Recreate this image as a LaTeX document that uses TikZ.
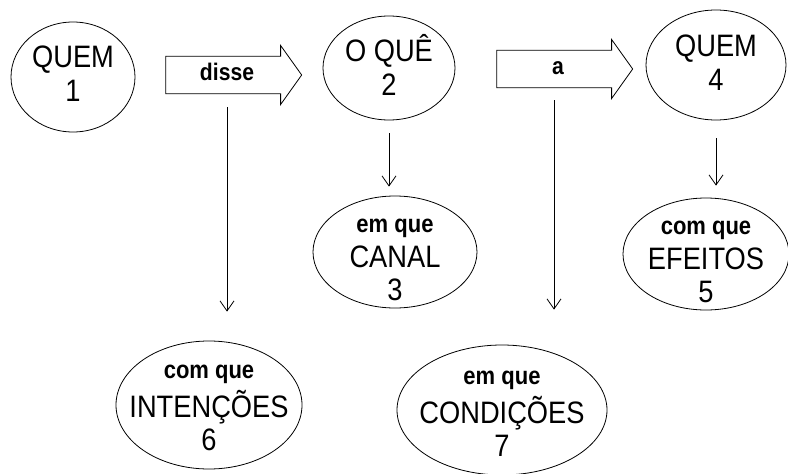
\documentclass[tikz,border=0pt]{standalone}
\usepackage{fontspec}
\setmainfont[FakeStretch=0.88]{Liberation Sans}
\usetikzlibrary{shapes.geometric,shapes.arrows,arrows.meta}
\begin{document}
\begin{tikzpicture}[x=1pt,y=-1pt,
  oval/.style={ellipse, draw, line width=0.8pt, inner sep=0pt},
  big/.style={align=center, inner sep=0pt, font=\fontsize{31}{29}\selectfont},
  blockarrow/.style={single arrow, draw, line width=0.8pt, minimum height=136pt,
    minimum width=59pt, single arrow head extend=10pt, single arrow tip angle=109,
    text height=14pt, text depth=4pt, inner ysep=8pt,
    font=\bfseries\fontsize{24}{26}\selectfont},
  link/.style={line width=0.8pt, -{Straight Barb[length=10pt,width=14pt]}}
]
\useasboundingbox (0,0) rectangle (788,474);
\newcommand\smalltxt[1]{{\bfseries\fontsize{25}{29}\selectfont #1}}
% ellipses
\node[oval, minimum width=124pt, minimum height=110pt] (e1) at (73,77) {};
\node[big] (t1) at ([yshift=3pt]e1.center) {QUEM\\[5pt]1};
\node[oval, minimum width=132pt, minimum height=104pt] (e2) at (389,68) {};
\node[big] (t2) at ([yshift=3pt]e2.center) {O QUÊ\\[5pt]2};
\node[oval, minimum width=140pt, minimum height=110pt] (e4) at (716,65) {};
\node[big] (t4) at ([yshift=2pt]e4.center) {QUEM\\[5pt]4};
\node[oval, minimum width=164pt, minimum height=112pt] (e3) at (395,252) {};
\node[big] (t3) at ([yshift=-8pt]e3.center) {\smalltxt{em que}\\[6pt]CANAL\\[4pt]3};
\node[oval, minimum width=166pt, minimum height=112pt] (e5) at (706,254) {};
\node[big] (t5) at ([yshift=-8pt]e5.center) {\smalltxt{com que}\\[6pt]EFEITOS\\[4pt]5};
\node[oval, minimum width=186pt, minimum height=128pt] (e6) at (209,405) {};
\node[big] (t6) at ([yshift=-3pt]e6.center) {\smalltxt{com que}\\[6pt]INTENÇÕES\\[4pt]6};
\node[oval, minimum width=210pt, minimum height=130pt] (e7) at (502,410) {};
\node[big] (t7) at ([yshift=-4pt]e7.center) {\smalltxt{em que}\\[6pt]CONDIÇÕES\\[4pt]7};
% block arrows
\node[blockarrow] (disse) at (227,75) {disse};
\node[blockarrow] (a) at (558,69) {a};
% connectors
\draw[link, shorten <=13pt, shorten >=29pt] (disse.south) -- (disse.south |- e6.north);
\draw[link, shorten <=13pt, shorten >=9pt] (e2.south) -- (e3.north -| e2.south);
\draw[link, shorten <=12pt, shorten >=35pt] ([xshift=-4pt]a.south) -- ([xshift=-4pt]a.south |- e7.north);
\draw[link, shorten <=18pt, shorten >=12pt] (e4.south) -- (e5.north -| e4.south);
\end{tikzpicture}
\end{document}
